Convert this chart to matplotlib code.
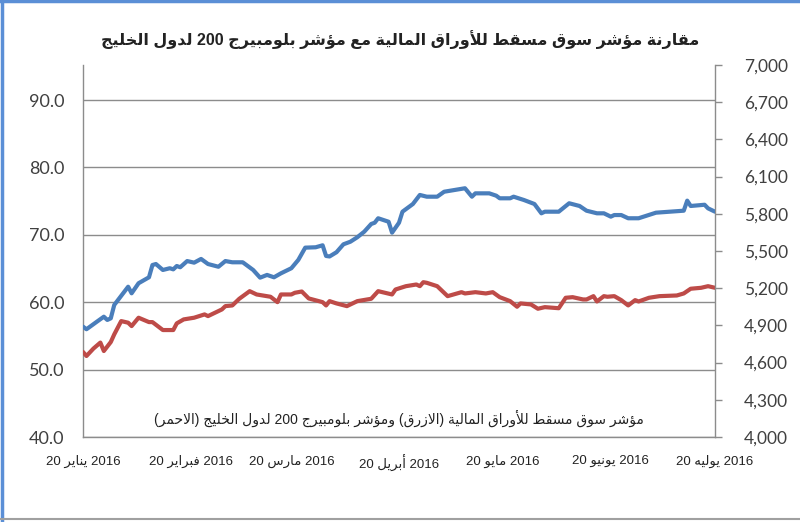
import re
import datetime as dt
import matplotlib
matplotlib.use("Agg")
import matplotlib.pyplot as plt
import matplotlib.dates as mdates
from matplotlib.lines import Line2D
from matplotlib.ticker import FuncFormatter, FixedLocator

# ---------------- data ----------------
title_text = "مقارنة مؤشر سوق مسقط للأوراق المالية مع مؤشر بلومبيرج 200 لدول الخليج"
note_text = "مؤشر سوق مسقط للأوراق المالية (الازرق) ومؤشر بلومبيرج 200 لدول الخليج (الاحمر)"
month_names = ["يناير", "فبراير", "مارس", "أبريل", "مايو", "يونيو", "يوليه"]

# Muscat Securities Market index (blue, right axis)
msm_dates = ["2016-01-20", "2016-01-21", "2016-01-24", "2016-01-26", "2016-01-27", "2016-01-28",
             "2016-01-29", "2016-02-02", "2016-02-03", "2016-02-05", "2016-02-08", "2016-02-09",
             "2016-02-10", "2016-02-12", "2016-02-14", "2016-02-15", "2016-02-16", "2016-02-17",
             "2016-02-19", "2016-02-21", "2016-02-23", "2016-02-25", "2016-02-28", "2016-03-01",
             "2016-03-03", "2016-03-06", "2016-03-09", "2016-03-11", "2016-03-13", "2016-03-15",
             "2016-03-17", "2016-03-20", "2016-03-22", "2016-03-24", "2016-03-27", "2016-03-29",
             "2016-03-30", "2016-03-31", "2016-04-02", "2016-04-04", "2016-04-06", "2016-04-08",
             "2016-04-10", "2016-04-12", "2016-04-13", "2016-04-14", "2016-04-17", "2016-04-18",
             "2016-04-20", "2016-04-21", "2016-04-24", "2016-04-26", "2016-04-28", "2016-05-01",
             "2016-05-03", "2016-05-09", "2016-05-11", "2016-05-12", "2016-05-16", "2016-05-18",
             "2016-05-19", "2016-05-22", "2016-05-23", "2016-05-26", "2016-05-29", "2016-05-31",
             "2016-06-01", "2016-06-05", "2016-06-08", "2016-06-11", "2016-06-13", "2016-06-16",
             "2016-06-18", "2016-06-20", "2016-06-21", "2016-06-23", "2016-06-25", "2016-06-28",
             "2016-06-30", "2016-07-03", "2016-07-07", "2016-07-11", "2016-07-12", "2016-07-13",
             "2016-07-17", "2016-07-18", "2016-07-20"]
msm_values = [4890, 4869, 4930, 4970, 4944, 4957,
              5065, 5212, 5159, 5240, 5288, 5387,
              5395, 5347, 5361, 5352, 5379, 5369,
              5419, 5406, 5436, 5395, 5373, 5419,
              5409, 5409, 5347, 5285, 5307, 5288,
              5320, 5361, 5428, 5527, 5530, 5546,
              5460, 5456, 5490, 5554, 5575, 5611,
              5656, 5718, 5728, 5764, 5736, 5648,
              5728, 5817, 5879, 5952, 5938, 5938,
              5978, 6006, 5938, 5965, 5965, 5946,
              5925, 5925, 5938, 5911, 5879, 5804,
              5817, 5817, 5885, 5863, 5825, 5804,
              5804, 5777, 5790, 5790, 5764, 5764,
              5782, 5809, 5817, 5825, 5906, 5863,
              5873, 5844, 5817]

# Bloomberg GCC 200 index (red, left axis)
gcc_dates = ["2016-01-20", "2016-01-21", "2016-01-23", "2016-01-25", "2016-01-26", "2016-01-28",
             "2016-01-29", "2016-01-31", "2016-02-02", "2016-02-03", "2016-02-05", "2016-02-08",
             "2016-02-09", "2016-02-12", "2016-02-15", "2016-02-16", "2016-02-18", "2016-02-21",
             "2016-02-24", "2016-02-25", "2016-02-29", "2016-03-01", "2016-03-03", "2016-03-05",
             "2016-03-08", "2016-03-10", "2016-03-14", "2016-03-16", "2016-03-17", "2016-03-20",
             "2016-03-21", "2016-03-23", "2016-03-25", "2016-03-29", "2016-03-30", "2016-03-31",
             "2016-04-02", "2016-04-05", "2016-04-08", "2016-04-12", "2016-04-14", "2016-04-18",
             "2016-04-19", "2016-04-22", "2016-04-25", "2016-04-26", "2016-04-27", "2016-04-28",
             "2016-05-01", "2016-05-04", "2016-05-08", "2016-05-09", "2016-05-12", "2016-05-15",
             "2016-05-17", "2016-05-19", "2016-05-22", "2016-05-24", "2016-05-25", "2016-05-28",
             "2016-05-30", "2016-06-01", "2016-06-05", "2016-06-07", "2016-06-09", "2016-06-12",
             "2016-06-13", "2016-06-15", "2016-06-16", "2016-06-18", "2016-06-19", "2016-06-21",
             "2016-06-23", "2016-06-25", "2016-06-27", "2016-06-28", "2016-07-01", "2016-07-04",
             "2016-07-09", "2016-07-11", "2016-07-13", "2016-07-16", "2016-07-18", "2016-07-20"]
gcc_values = [52.62, 52.02, 53.12, 54.01, 52.76, 54.09,
              55.23, 57.20, 56.96, 56.46, 57.70, 57.05,
              57.05, 55.87, 55.87, 56.86, 57.45, 57.70,
              58.19, 57.94, 58.93, 59.42, 59.52, 60.51,
              61.64, 61.15, 60.81, 60.01, 61.15, 61.15,
              61.40, 61.59, 60.56, 60.01, 59.52, 60.16,
              59.82, 59.42, 60.16, 60.51, 61.64, 61.15,
              61.89, 62.38, 62.63, 62.38, 62.97, 62.88,
              62.38, 60.90, 61.49, 61.30, 61.49, 61.30,
              61.49, 60.75, 60.16, 59.33, 59.82, 59.67,
              59.03, 59.27, 59.11, 60.66, 60.75, 60.41,
              60.41, 60.90, 60.11, 60.90, 60.81, 60.90,
              60.31, 59.52, 60.31, 60.11, 60.66, 60.90,
              61.00, 61.30, 62.00, 62.14, 62.38, 62.14]

left_ticks = [40, 50, 60, 70, 80, 90]
right_ticks = [4000, 4300, 4600, 4900, 5200, 5500, 5800, 6100, 6400, 6700, 7000]

# ---------------- minimal Arabic shaping (presentation forms + visual order) ----------------
FORMS = {
    "ا": ("\uFE8D", "\uFE8E", None, None), "أ": ("\uFE83", "\uFE84", None, None),
    "ب": ("\uFE8F", "\uFE90", "\uFE91", "\uFE92"), "ة": ("\uFE93", "\uFE94", None, None),
    "ت": ("\uFE95", "\uFE96", "\uFE97", "\uFE98"), "ج": ("\uFE9D", "\uFE9E", "\uFE9F", "\uFEA0"),
    "ح": ("\uFEA1", "\uFEA2", "\uFEA3", "\uFEA4"), "خ": ("\uFEA5", "\uFEA6", "\uFEA7", "\uFEA8"),
    "د": ("\uFEA9", "\uFEAA", None, None), "ر": ("\uFEAD", "\uFEAE", None, None),
    "ز": ("\uFEAF", "\uFEB0", None, None), "س": ("\uFEB1", "\uFEB2", "\uFEB3", "\uFEB4"),
    "ش": ("\uFEB5", "\uFEB6", "\uFEB7", "\uFEB8"), "ط": ("\uFEC1", "\uFEC2", "\uFEC3", "\uFEC4"),
    "ع": ("\uFEC9", "\uFECA", "\uFECB", "\uFECC"), "ف": ("\uFED1", "\uFED2", "\uFED3", "\uFED4"),
    "ق": ("\uFED5", "\uFED6", "\uFED7", "\uFED8"), "ل": ("\uFEDD", "\uFEDE", "\uFEDF", "\uFEE0"),
    "م": ("\uFEE1", "\uFEE2", "\uFEE3", "\uFEE4"), "ن": ("\uFEE5", "\uFEE6", "\uFEE7", "\uFEE8"),
    "ه": ("\uFEE9", "\uFEEA", "\uFEEB", "\uFEEC"), "و": ("\uFEED", "\uFEEE", None, None),
    "ؤ": ("\uFE85", "\uFE86", None, None), "ي": ("\uFEF1", "\uFEF2", "\uFEF3", "\uFEF4"),
}
LAM_ALEF = {"ا": ("\uFEFB", "\uFEFC"), "أ": ("\uFEF7", "\uFEF8")}


def _dual(c):
    return c in FORMS and FORMS[c][2] is not None


def shape(s):
    out, i, n = [], 0, len(s)
    while i < n:
        c = s[i]
        prev = s[i - 1] if i > 0 else None
        joinp = prev is not None and _dual(prev)
        if c == "ل" and i + 1 < n and s[i + 1] in LAM_ALEF:
            out.append(LAM_ALEF[s[i + 1]][1 if joinp else 0])
            i += 2
            continue
        if c in FORMS:
            nxt = s[i + 1] if i + 1 < n else None
            joinn = _dual(c) and nxt is not None and nxt in FORMS
            iso, fin, ini, med = FORMS[c]
            out.append(med if (joinp and joinn) else fin if joinp else ini if joinn else iso)
        else:
            out.append(c)
        i += 1
    return "".join(out)


def ar(s):
    parts = re.findall(r"[0-9]+|[^0-9]+", shape(s))
    mirror = str.maketrans("()", ")(")
    res = []
    for p in reversed(parts):
        res.append(p if p[0].isdigit() else p[::-1].translate(mirror))
    return "".join(res)


# ---------------- plot ----------------
FAM = ["Liberation Sans", "DejaVu Sans"]
BLUE = "#4a7ebb"
RED = "#be4b48"
GRID = "#8c8c8c"

fig = plt.figure(figsize=(8.0, 5.22), dpi=100)
ax = fig.add_axes([83 / 800, 1 - 437 / 522, (715 - 83) / 800, (437 - 65) / 522])
ax2 = ax.twinx()

gd = [dt.datetime.strptime(d, "%Y-%m-%d") for d in gcc_dates]
md = [dt.datetime.strptime(d, "%Y-%m-%d") for d in msm_dates]

ax.plot(gd, gcc_values, color=RED, lw=3.0, solid_joinstyle="round", solid_capstyle="round", zorder=3)
ax2.plot(md, msm_values, color=BLUE, lw=3.0, solid_joinstyle="round", solid_capstyle="round", zorder=3)

ax.set_xlim(dt.datetime(2016, 1, 20), dt.datetime(2016, 7, 20))
ax.set_ylim(40, 95.2)
ax2.set_ylim(4000, 7000)

ax.set_yticks(left_ticks)
ax.yaxis.set_major_formatter(FuncFormatter(lambda v, p: f"{v:.1f}"))
ax2.set_yticks(right_ticks)
ax2.yaxis.set_major_formatter(FuncFormatter(lambda v, p: f"{int(v):,}"))

xt = [dt.datetime(2016, m, 20) for m in range(1, 8)]
ax.xaxis.set_major_locator(FixedLocator(mdates.date2num(xt)))
ax.xaxis.set_major_formatter(FuncFormatter(
    lambda v, p: f"20 {ar(month_names[mdates.num2date(v).month - 1])} 2016"))

ax.grid(axis="y", color=GRID, lw=1.0)
ax.set_axisbelow(True)

for a in (ax, ax2):
    for s in a.spines.values():
        s.set_color(GRID)
        s.set_linewidth(1.0)
    a.spines["top"].set_visible(False)
ax.spines["right"].set_visible(False)
ax2.spines["left"].set_visible(False)
ax2.spines["bottom"].set_visible(False)

ax.tick_params(axis="y", length=0, pad=13.5, labelsize=13, labelcolor="#404040")
for t in ax.get_yticklabels():
    t.set_family("Lato")
ax2.tick_params(axis="y", length=5, width=1, color=GRID, pad=16, labelsize=12.5, labelcolor="#404040")
for t in ax2.get_yticklabels():
    t.set_family("Lato")
ax.tick_params(axis="x", length=0, pad=13, labelsize=9.5, labelcolor="#222222")
for t in ax.get_xticklabels():
    t.set_family(FAM)

ax.text(0.5, (437 - 418) / 372, ar(note_text), transform=ax.transAxes, ha="center", va="center",
        fontsize=10, family=FAM, color="#222222")

fig.text(0.5, 1 - 40 / 522, ar(title_text), ha="center", va="center", fontsize=11.5,
         fontweight="bold", family=FAM, color="#222222")

# frame
fig.add_artist(Line2D([0, 1], [1 - 1 / 522, 1 - 1 / 522], color="#5b8fd6", lw=2.5))
fig.add_artist(Line2D([1.5 / 800, 1.5 / 800], [0, 1], color="#5b8fd6", lw=2.5))
fig.add_artist(Line2D([0, 1], [1 - 519 / 522, 1 - 519 / 522], color="#a0a0a0", lw=1.5))

fig.savefig("out.png", dpi=100)
